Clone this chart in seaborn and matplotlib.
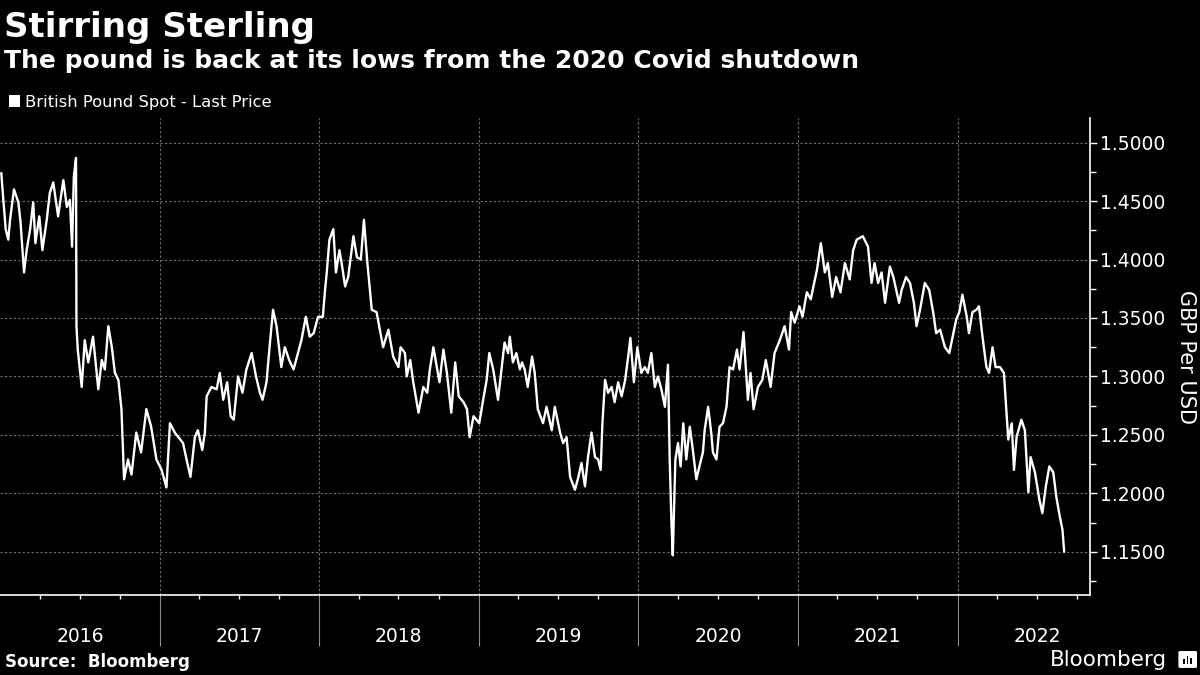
import pandas as pd
import matplotlib
matplotlib.use("Agg")
import matplotlib.pyplot as plt
import matplotlib.dates as mdates
import matplotlib.ticker as mticker
import matplotlib.transforms as mtransforms
from matplotlib.patches import Rectangle, FancyBboxPatch
import seaborn as sns

# GBP/USD spot (month-day per year, price)
days_2016 = ["01-04", "01-08", "01-14", "01-20", "01-24", "02-02", "02-12", "02-17", "02-25",
             "03-02", "03-10", "03-17", "03-22", "03-31", "04-07", "04-17", "04-24", "05-02",
             "05-13", "05-25", "06-02", "06-09", "06-14", "06-18", "06-23", "06-24", "06-27",
             "07-06", "07-13", "07-21", "08-01", "08-13", "08-21", "08-28", "09-05", "09-13",
             "09-20", "09-28", "10-05", "10-11", "10-20", "10-28", "11-08", "11-19", "12-01",
             "12-12", "12-24"]
gbp_2016 = [1.474, 1.454, 1.426, 1.417, 1.434, 1.460, 1.449, 1.432, 1.389,
            1.408, 1.426, 1.449, 1.414, 1.437, 1.408, 1.434, 1.457, 1.466,
            1.437, 1.468, 1.445, 1.451, 1.411, 1.471, 1.487, 1.343, 1.323,
            1.291, 1.331, 1.312, 1.334, 1.289, 1.314, 1.306, 1.343, 1.325,
            1.303, 1.297, 1.272, 1.212, 1.229, 1.216, 1.252, 1.235, 1.272,
            1.257, 1.229]

days_2017 = ["01-05", "01-16", "01-24", "02-04", "02-23", "03-03", "03-12", "03-22", "03-29",
             "04-08", "04-14", "04-18", "04-29", "05-11", "05-18", "05-26", "06-04", "06-12",
             "06-19", "06-29", "07-09", "07-18", "07-30", "08-09", "08-18", "08-24", "09-02",
             "09-10", "09-17", "09-25", "10-06", "10-14", "10-24", "11-03", "11-13", "11-21",
             "12-01", "12-10", "12-19", "12-29"]
gbp_2017 = [1.220, 1.205, 1.260, 1.252, 1.243, 1.229, 1.214, 1.248, 1.254,
            1.237, 1.252, 1.283, 1.291, 1.289, 1.303, 1.280, 1.295, 1.266,
            1.263, 1.300, 1.286, 1.306, 1.320, 1.300, 1.286, 1.280, 1.295,
            1.329, 1.357, 1.343, 1.308, 1.325, 1.314, 1.306, 1.320, 1.331,
            1.351, 1.334, 1.337, 1.351]

days_2018 = ["01-09", "01-14", "01-18", "01-24", "02-02", "02-08", "02-16", "02-21",
             "03-01", "03-08", "03-20", "03-28", "04-06", "04-13", "04-21", "05-01",
             "05-12", "05-27", "06-08", "06-19", "07-01", "07-06", "07-16", "07-20",
             "07-28", "08-04", "08-16", "08-27", "09-05", "09-11", "09-19", "09-27",
             "10-03", "10-12", "10-20", "10-30", "11-08", "11-16", "11-27", "12-05",
             "12-11", "12-20"]
gbp_2018 = [1.351, 1.374, 1.389, 1.417, 1.426, 1.389, 1.408, 1.397,
            1.377, 1.385, 1.420, 1.402, 1.400, 1.434, 1.397, 1.357,
            1.355, 1.325, 1.340, 1.317, 1.308, 1.325, 1.320, 1.300,
            1.314, 1.295, 1.269, 1.291, 1.286, 1.306, 1.325, 1.308,
            1.295, 1.323, 1.303, 1.269, 1.312, 1.283, 1.278, 1.272,
            1.248, 1.266]

days_2019 = ["01-02", "01-11", "01-19", "01-25", "02-03", "02-14", "02-22", "03-01", "03-09",
             "03-13", "03-20", "03-28", "04-05", "04-10", "04-16", "04-23", "05-03", "05-09",
             "05-16", "05-28", "06-05", "06-17", "06-24", "07-06", "07-13", "07-21", "07-29",
             "08-09", "08-17", "08-24", "09-01", "09-08", "09-16", "09-24", "10-01", "10-07",
             "10-11", "10-17", "10-24", "11-01", "11-08", "11-16", "11-24", "12-02", "12-09",
             "12-14", "12-22", "12-30"]
gbp_2019 = [1.260, 1.280, 1.297, 1.320, 1.306, 1.280, 1.306, 1.329, 1.320,
            1.334, 1.312, 1.320, 1.306, 1.312, 1.306, 1.291, 1.317, 1.303,
            1.272, 1.260, 1.274, 1.254, 1.274, 1.252, 1.243, 1.248, 1.214,
            1.203, 1.214, 1.226, 1.206, 1.231, 1.252, 1.231, 1.229, 1.220,
            1.260, 1.297, 1.286, 1.291, 1.278, 1.295, 1.283, 1.297, 1.317,
            1.333, 1.295, 1.325]

days_2020 = ["01-08", "01-16", "01-23", "01-31", "02-08", "02-15", "02-23", "03-02", "03-09",
             "03-13", "03-17", "03-20", "03-26", "04-01", "04-07", "04-13", "04-20", "04-28",
             "05-05", "05-13", "05-20", "05-28", "06-01", "06-09", "06-16", "06-20", "06-28",
             "07-05", "07-13", "07-21", "07-28", "08-05", "08-14", "08-20", "08-29", "09-08",
             "09-14", "09-21", "10-01", "10-11", "10-19", "10-30", "11-08", "11-20", "12-01",
             "12-11", "12-16", "12-24"]
gbp_2020 = [1.303, 1.308, 1.303, 1.320, 1.291, 1.300, 1.289, 1.274, 1.310,
            1.229, 1.175, 1.147, 1.229, 1.243, 1.223, 1.260, 1.229, 1.257,
            1.237, 1.212, 1.223, 1.235, 1.254, 1.274, 1.252, 1.235, 1.229,
            1.257, 1.260, 1.274, 1.308, 1.306, 1.323, 1.306, 1.338, 1.280,
            1.303, 1.272, 1.291, 1.297, 1.314, 1.291, 1.320, 1.331, 1.343,
            1.323, 1.355, 1.346]

days_2021 = ["01-04", "01-11", "01-21", "01-30", "02-05", "02-13", "02-22", "03-03", "03-10",
             "03-20", "03-29", "04-08", "04-18", "04-29", "05-07", "05-15", "05-29", "06-10",
             "06-18", "06-25", "07-03", "07-11", "07-19", "07-30", "08-07", "08-20", "08-26",
             "09-05", "09-14", "09-23", "09-29", "10-07", "10-18", "10-28", "11-06", "11-13",
             "11-22", "12-03", "12-13", "12-19", "12-29"]
gbp_2021 = [1.360, 1.351, 1.372, 1.366, 1.377, 1.391, 1.414, 1.389, 1.397,
            1.368, 1.385, 1.372, 1.397, 1.383, 1.408, 1.417, 1.420, 1.411,
            1.380, 1.397, 1.380, 1.389, 1.363, 1.394, 1.385, 1.363, 1.374,
            1.385, 1.380, 1.363, 1.343, 1.357, 1.380, 1.374, 1.355, 1.337,
            1.340, 1.325, 1.320, 1.331, 1.349]

days_2022 = ["01-05", "01-12", "01-22", "01-27", "02-04", "02-13", "02-19", "02-27", "03-08",
             "03-14", "03-22", "03-29", "04-08", "04-17", "04-21", "04-27", "05-05", "05-10",
             "05-16", "05-27", "06-04", "06-12", "06-17", "06-27", "07-07", "07-14", "07-22",
             "07-30", "08-08", "08-15", "08-23", "08-29", "09-02"]
gbp_2022 = [1.355, 1.370, 1.351, 1.337, 1.355, 1.357, 1.360, 1.334, 1.308,
            1.303, 1.325, 1.308, 1.308, 1.303, 1.280, 1.246, 1.260, 1.220,
            1.248, 1.263, 1.254, 1.201, 1.231, 1.218, 1.195, 1.183, 1.206,
            1.223, 1.218, 1.197, 1.180, 1.169, 1.150]

years = [2016, 2017, 2018, 2019, 2020, 2021, 2022]
y_ticks = [1.15, 1.20, 1.25, 1.30, 1.35, 1.40, 1.45, 1.50]

# build one frame for seaborn
all_days = [days_2016, days_2017, days_2018, days_2019, days_2020, days_2021, days_2022]
all_gbp = [gbp_2016, gbp_2017, gbp_2018, gbp_2019, gbp_2020, gbp_2021, gbp_2022]
frames = []
for yr, d, p in zip(years, all_days, all_gbp):
    assert len(d) == len(p), yr
    frames.append(pd.DataFrame({"date": pd.to_datetime([f"{yr}-{md}" for md in d]),
                                "price": p}))
df = pd.concat(frames, ignore_index=True)

sns.set_theme(style="dark", rc={
    "figure.facecolor": "black",
    "axes.facecolor": "black",
    "text.color": "white",
    "axes.labelcolor": "white",
    "xtick.color": "white",
    "ytick.color": "white",
})
plt.rcParams["font.family"] = ["DejaVu Sans"]

fig = plt.figure(figsize=(12, 6.75), dpi=100)
ax = fig.add_axes([0.0, 0.1185, 0.9083, 0.7065])

sns.lineplot(data=df, x="date", y="price", color="white", linewidth=1.7, ax=ax, legend=False)

ax.set_xlim(pd.Timestamp("2016-01-01"), pd.Timestamp("2022-10-31"))
ax.set_ylim(1.113, 1.521)
ax.set_xlabel("")

# right-hand price axis
ax.yaxis.tick_right()
ax.yaxis.set_label_position("right")
ax.set_yticks(y_ticks)
ax.set_yticks([1.125 + 0.05 * i for i in range(8)], minor=True)
ax.set_yticklabels([f"{v:.4f}" for v in y_ticks])
ax.tick_params(axis="y", which="major", direction="out", length=5, width=1,
               colors="white", labelsize=13.5, pad=2)
ax.tick_params(axis="y", which="minor", direction="out", length=4, width=1, colors="white")
ax.set_ylabel("GBP Per USD", rotation=270, va="bottom", fontsize=15, labelpad=8)

# year boundaries (not the left edge) as long grey ticks, quarters as short white ticks
year_starts = [pd.Timestamp(f"{yr}-01-01") for yr in years[1:]]
ax.xaxis.set_major_locator(mticker.FixedLocator(mdates.date2num(year_starts)))
ax.xaxis.set_minor_locator(mdates.MonthLocator(bymonth=[4, 7, 10]))
ax.tick_params(axis="x", which="both", bottom=True)
ax.tick_params(axis="x", which="major", direction="out", length=37, width=0.8,
               color="#8c8c8c", labelbottom=False)
ax.tick_params(axis="x", which="minor", direction="out", length=3, width=1, color="white")

ax.grid(True, axis="both", which="major", color="#707070", linestyle=(0, (2, 2)), linewidth=0.8)

for side in ["left", "top"]:
    ax.spines[side].set_visible(False)
for side in ["bottom", "right"]:
    ax.spines[side].set_color("white")
    ax.spines[side].set_linewidth(1.2)

# year names centred in each year
trans = mtransforms.blended_transform_factory(ax.transData, fig.transFigure)
for yr in years:
    ax.text(pd.Timestamp(f"{yr}-07-02"), 0.049, str(yr), transform=trans,
            ha="center", va="baseline", fontsize=13.5, color="white")

# titles and legend
fig.text(0.003, 0.945, "Stirring Sterling", fontsize=24.5, fontweight="bold",
         color="white", va="baseline")
fig.text(0.003, 0.899, "The pound is back at its lows from the 2020 Covid shutdown",
         fontsize=18, fontweight="bold", color="white", va="baseline")
fig.patches.append(Rectangle((0.0075, 0.8415), 0.0092, 0.0178, transform=fig.transFigure,
                             facecolor="white", edgecolor="none"))
fig.text(0.0208, 0.8415, "British Pound Spot - Last Price", fontsize=11.8,
         color="white", va="baseline")

# footer
fig.text(0.004, 0.012, "Source:  Bloomberg", fontsize=12, fontweight="bold",
         color="white", va="baseline")
fig.text(0.9725, 0.013, "Bloomberg", fontsize=15.5, color="white", va="baseline", ha="right")
fig.patches.append(FancyBboxPatch((0.9835, 0.012), 0.0125, 0.022,
                                  boxstyle="round,pad=0.0015", transform=fig.transFigure,
                                  facecolor="white", edgecolor="none"))
for bx, bh in [(0.9862, 0.007), (0.9888, 0.012), (0.9914, 0.009)]:
    fig.patches.append(Rectangle((bx, 0.016), 0.0016, bh, transform=fig.transFigure,
                                 facecolor="black", edgecolor="none"))

fig.savefig("out.png", dpi=100, facecolor="black")
